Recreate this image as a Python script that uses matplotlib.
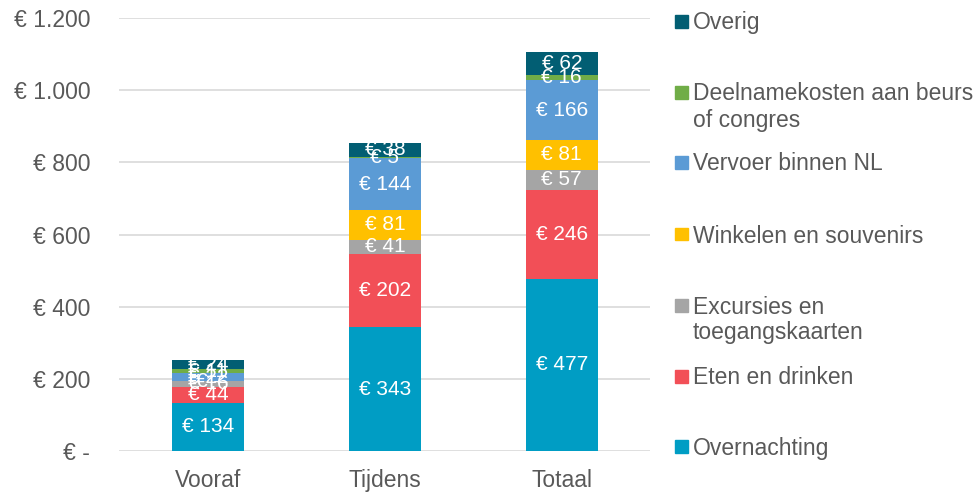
import matplotlib
matplotlib.use("Agg")
import matplotlib.pyplot as plt
from matplotlib.patches import Rectangle

categories = ["Vooraf", "Tijdens", "Totaal"]
series_names = ["Overnachting", "Eten en drinken", "Excursies en\ntoegangskaarten",
                "Winkelen en souvenirs", "Vervoer binnen NL",
                "Deelnamekosten aan beurs\nof congres", "Overig"]
overnachting = [134, 343, 477]
eten = [44, 202, 246]
excursies = [16, 41, 57]
winkelen = [0, 81, 81]
vervoer = [22, 144, 166]
deelname = [11, 5, 16]
overig = [24, 38, 62]
series = [overnachting, eten, excursies, winkelen, vervoer, deelname, overig]
colors = ["#009DC4", "#F24F57", "#A5A5A5", "#FFC000", "#5B9BD5", "#70AD47", "#025E73"]
yticks = [0, 200, 400, 600, 800, 1000, 1200]
ytick_labels = ["€ -", "€ 200", "€ 400", "€ 600", "€ 800", "€ 1.000", "€ 1.200"]

plt.rcParams['font.family'] = ['Liberation Sans', 'DejaVu Sans']
fig = plt.figure(figsize=(9.73, 4.92), dpi=100)
ax = fig.add_axes([0.1228, 0.0833, 0.5455, 0.8801])

x = list(range(len(categories)))
bottom = [0] * len(categories)
for vals, col in zip(series, colors):
    bars = ax.bar(x, vals, bottom=bottom, width=0.41, color=col, zorder=3)
    labels = [f"€ {v}" if v else "€ -" for v in vals]
    ax.bar_label(bars, labels=labels, label_type='center', color='white', fontsize=15, zorder=4)
    bottom = [b + v for b, v in zip(bottom, vals)]

ax.set_xlim(-0.5, 2.5)
ax.set_ylim(0, 1200)
ax.set_yticks(yticks)
ax.set_yticklabels(ytick_labels)
ax.set_xticks(x)
ax.set_xticklabels(categories)
ax.yaxis.grid(True, color="#D9D9D9", linewidth=1.2, zorder=0)
for s in ax.spines.values():
    s.set_visible(False)
ax.tick_params(axis='both', length=0, labelsize=16.5, colors="#595959")
ax.tick_params(axis='y', pad=21)
ax.tick_params(axis='x', pad=13)

# legend (right side), ordered top to bottom
W, H = 973, 492
legend_entries = [
    (["Overig"], colors[6], 21),
    (["Deelnamekosten aan beurs", "of congres"], colors[5], 92),
    (["Vervoer binnen NL"], colors[4], 162),
    (["Winkelen en souvenirs"], colors[3], 234),
    (["Excursies en", "toegangskaarten"], colors[2], 305),
    (["Eten en drinken"], colors[1], 376),
    (["Overnachting"], colors[0], 446),
]
sq = 13
for lines, col, yc in legend_entries:
    fig.patches.append(Rectangle((675 / W, 1 - (yc + sq / 2) / H), sq / W, sq / H,
                                 transform=fig.transFigure, color=col, figure=fig))
    for i, line in enumerate(lines):
        fig.text(693 / W, 1 - (yc + 8.5 + 26 * i) / H, line, fontsize=16.5,
                 color="#595959", va='baseline', ha='left')

fig.savefig("out.png", dpi=100)
